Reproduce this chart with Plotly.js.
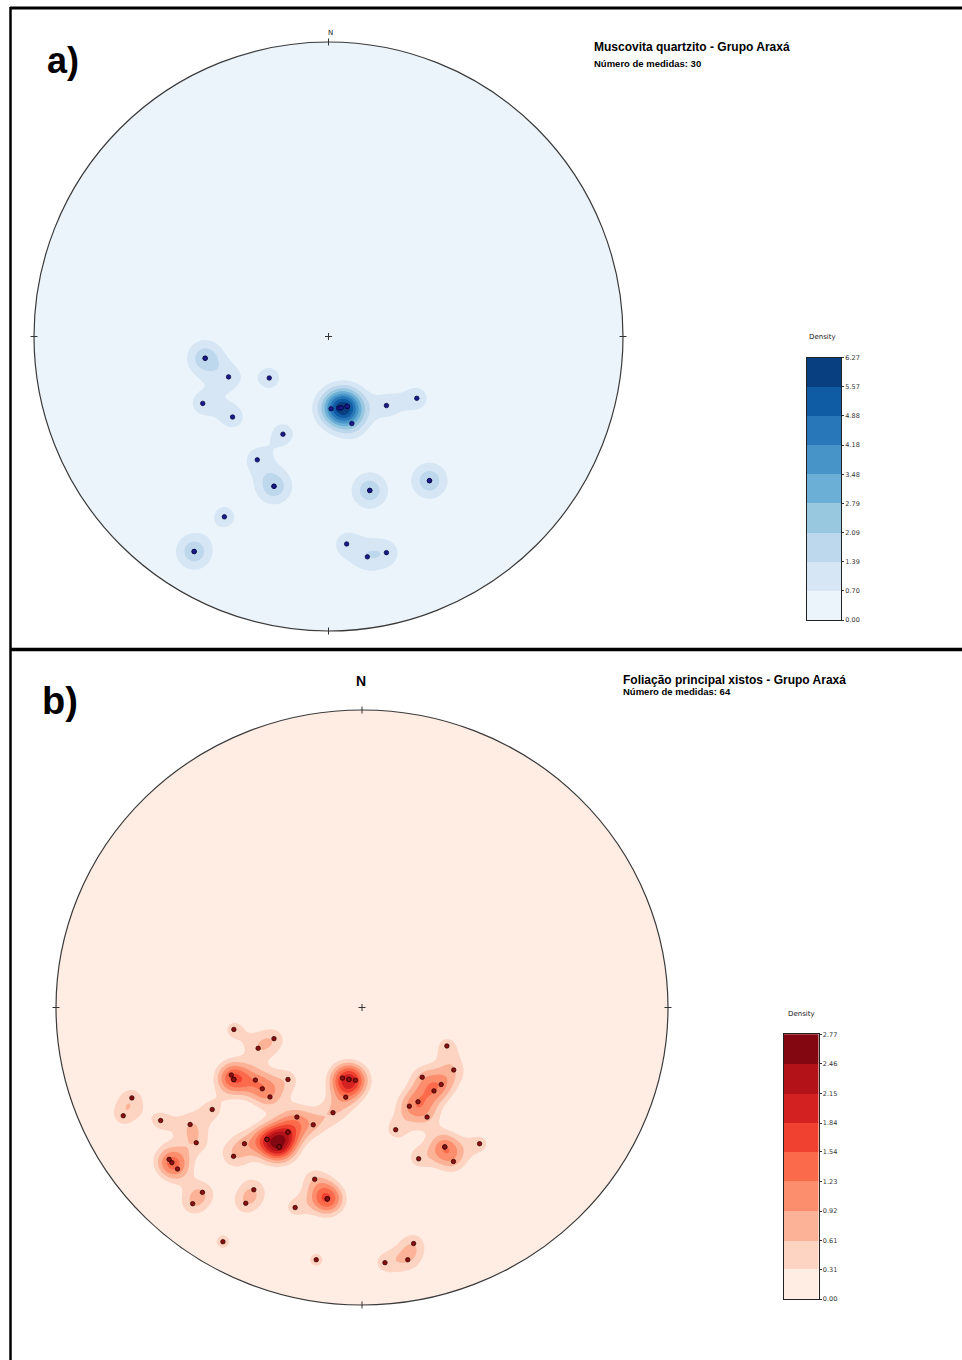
<!DOCTYPE html>
<html>
<head>
<meta charset="utf-8">
<script src="https://cdn.plot.ly/plotly-3.0.1.min.js"></script>
<style>
  html, body { margin: 0; padding: 0; background: #ffffff; }
  #chart { width: 962px; height: 1360px; }
</style>
</head>
<body>
<div id="chart"></div>
<script>
// Poles to planes, lower-hemisphere equal-area net: trend / plunge in degrees.
// a) Muscovita quartzito - Grupo Araxá (30 measurements)
const trendA  = [260, 248, 235, 242, 230, 178, 172, 170, 165, 165, 140, 125, 205, 210, 200,
                 165, 145, 210, 212, 175, 170, 165, 165, 165, 170, 165, 145, 212, 200, 260];
const plungeA = [ 55,  60,  70,  50,  55,  70,  70,  70,  70,  65,  65,  60,  60,  50,  45,
                  45,  40,  30,  15,  30,  25,  25,  70,  70,  70,  45,  40,  15,  45,  55];

// b) Foliação principal xistos - Grupo Araxá (64 measurements)
const trendB  = [260, 250, 248, 242, 240, 235, 225, 230, 225, 248, 235, 245, 240, 235, 210, 202,
                 210, 215, 220, 210, 230, 220, 231, 228, 195, 190, 220, 220, 210, 210, 198, 210,
                 190, 115, 125, 195, 190, 185, 140, 135, 140, 190, 150, 155, 150, 195, 165, 150,
                 140, 160, 150, 168, 175, 170, 210, 210, 215, 210, 190, 190, 230, 240, 190, 150];
const plungeB = [ 55,  65,  60,  50,  50,  55,  62,  55,  55,  20,  40,  15,  25,  32,  55,  55,
                  50,  45,  40,  45,  30,  35,  20,  20,  40,  35,  20,  15,  30,  25,  30,  10,
                  15,  65,  60,  70,  70,  70,  65,  60,  60,  65,  60,  60,  55,  60,  55,  45,
                  40,  45,  40,  20,  15,  15,  45,  45,  45,  50,  35,  35,  20,  50,  70,  45];

// Density contour levels (colour bar tick labels)
const levelLabelsA = ['0.00', '0.70', '1.39', '2.09', '2.79', '3.48', '4.18', '4.88', '5.57', '6.27'];
const levelLabelsB = ['0.00', '0.31', '0.61', '0.92', '1.23', '1.54', '1.84', '2.15', '2.46', '2.77'];

// Band colours (Blues / Reds, lowest band first)
const bandsBlues = ['#ecf4fb', '#d6e6f4', '#bdd7ec', '#98c7e0', '#6baed6', '#4795c8', '#2878b9', '#105ca4', '#083f81'];
const bandsReds  = ['#ffece3', '#fdd4c2', '#fcb297', '#fc8e6e', '#fb6a4a', '#f0402f', '#d32020', '#b21218', '#830711'];

const titleA = 'Muscovita quartzito - Grupo Araxá';
const titleB = 'Foliação principal xistos - Grupo Araxá';
const countText = 'Número de medidas: ';

// ---------------------------------------------------------------------------
const W = 962, H = 1360, PAD = 1.05;
const NET_A = { cx: 328.5, cy: 336.5, rx: 294.5, ry: 294.5 };
const NET_B = { cx: 362.0, cy: 1007.5, rx: 306.0, ry: 297.5 };

// Lambert equal-area projection of a line (trend/plunge) onto the unit net
function project(trend, plunge) {
  const t = trend * Math.PI / 180;
  const p = plunge * Math.PI / 180;
  const r = Math.SQRT2 * Math.sin((Math.PI / 2 - p) / 2);
  return [r * Math.sin(t), r * Math.cos(t)];
}

function projectAll(trends, plunges) {
  const xs = [], ys = [];
  trends.forEach((t, i) => { const q = project(t, plunges[i]); xs.push(q[0]); ys.push(q[1]); });
  return { xs, ys };
}

// Gaussian point counts on a regular grid, less a small background offset,
// scaled so that the densest node sits on the top contour level
function densityGrid(xs, ys, sigma, offset, n, top) {
  const axis = [];
  for (let i = 0; i < n; i++) axis.push(-1 + 2 * i / (n - 1));
  const k = 1 / (2 * sigma * sigma);
  let max = 0;
  const z = axis.map(y => axis.map(x => {
    let s = 0;
    for (let j = 0; j < xs.length; j++) {
      const dx = x - xs[j], dy = y - ys[j];
      s += Math.exp(-(dx * dx + dy * dy) * k);
    }
    s = Math.max(0, s - offset);
    if (s > max) max = s;
    return s;
  }));
  const f = top / max;
  return { axis, z: z.map(row => row.map(v => v * f)) };
}

// Piecewise-constant colour scale for filled contour bands
function steppedScale(colors) {
  const n = colors.length, out = [];
  colors.forEach((c, i) => {
    const a = i === 0 ? 0 : (i + 0.5) / (n + 1);
    const b = i === n - 1 ? 1 : (i + 1.5) / (n + 1);
    out.push([a, c], [b, c]);
  });
  return out;
}

function domains(net) {
  return {
    x: [(net.cx - net.rx * PAD) / W, (net.cx + net.rx * PAD) / W],
    y: [1 - (net.cy + net.ry * PAD) / H, 1 - (net.cy - net.ry * PAD) / H]
  };
}

// White frame with a circular hole, hiding the density field outside the primitive
function maskPath() {
  let d = `M${-PAD},${-PAD}L${PAD},${-PAD}L${PAD},${PAD}L${-PAD},${PAD}Z`;
  const n = 720;
  for (let i = 0; i <= n; i++) {
    const t = 2 * Math.PI * i / n;
    d += (i ? 'L' : 'M') + Math.cos(t).toFixed(5) + ',' + Math.sin(t).toFixed(5);
  }
  return d + 'Z';
}

function netShapes(xr, yr, net) {
  const tx = 3.5 / net.rx, ty = 3.5 / net.ry;
  const ln = { color: '#333333', width: 1 };
  return [
    { type: 'path', xref: xr, yref: yr, path: maskPath(), fillcolor: '#ffffff', fillrule: 'evenodd',
      line: { width: 0 }, layer: 'above' },
    { type: 'circle', xref: xr, yref: yr, x0: -1, x1: 1, y0: -1, y1: 1,
      line: { color: '#3a3a3a', width: 1.2 }, layer: 'above' },
    { type: 'line', xref: xr, yref: yr, x0: 0, x1: 0, y0: 1 - ty, y1: 1 + ty, line: ln, layer: 'above' },
    { type: 'line', xref: xr, yref: yr, x0: 0, x1: 0, y0: -1 - ty, y1: -1 + ty, line: ln, layer: 'above' },
    { type: 'line', xref: xr, yref: yr, x0: 1 - tx, x1: 1 + tx, y0: 0, y1: 0, line: ln, layer: 'above' },
    { type: 'line', xref: xr, yref: yr, x0: -1 - tx, x1: -1 + tx, y0: 0, y1: 0, line: ln, layer: 'above' },
    { type: 'line', xref: xr, yref: yr, x0: 0, x1: 0, y0: -ty, y1: ty, line: ln, layer: 'above' },
    { type: 'line', xref: xr, yref: yr, x0: -tx, x1: tx, y0: 0, y1: 0, line: ln, layer: 'above' }
  ];
}

function contourTrace(xr, yr, grid, labels, bands) {
  const top = parseFloat(labels[labels.length - 1]);
  const step = top / (labels.length - 1);
  return {
    type: 'contour', xaxis: xr, yaxis: yr,
    x: grid.axis, y: grid.axis, z: grid.z,
    autocontour: false,
    contours: { start: 0, end: top, size: step, coloring: 'fill', showlines: false },
    line: { width: 0, smoothing: 1 },
    colorscale: steppedScale(bands),
    showscale: false,
    hoverinfo: 'skip'
  };
}

// Colour key: one stacked block per density band
function keyTrace(xr, yr, labels, bands) {
  const lv = labels.map(parseFloat);
  return {
    type: 'bar', xaxis: xr, yaxis: yr,
    x: bands.map(() => 0),
    base: lv.slice(0, -1),
    y: lv.slice(1).map((v, i) => v - lv[i]),
    width: 1,
    marker: { color: bands, line: { width: 0 } },
    hoverinfo: 'skip'
  };
}

function keyAxes(labels, xDom, yDom, anchorX, anchorY) {
  const lv = labels.map(parseFloat);
  return {
    x: { domain: xDom, anchor: anchorY, range: [-0.5, 0.5], showline: true, mirror: true,
         linecolor: '#222222', linewidth: 1, showticklabels: false, ticks: '', showgrid: false,
         zeroline: false, fixedrange: true },
    y: { domain: yDom, anchor: anchorX, range: [lv[0], lv[lv.length - 1]], side: 'right',
         showline: true, mirror: true, linecolor: '#222222', linewidth: 1, showgrid: false,
         zeroline: false, fixedrange: true, tickmode: 'array', tickvals: lv, ticktext: labels,
         ticks: 'outside', ticklen: 2, tickwidth: 1, tickcolor: '#333333',
         tickfont: { family: 'DejaVu Sans', size: 6.5, color: '#333333' } }
  };
}

function poleTrace(xr, yr, pts, color, edge) {
  return {
    type: 'scatter', mode: 'markers', xaxis: xr, yaxis: yr,
    x: pts.xs, y: pts.ys, hoverinfo: 'skip',
    marker: { size: 4.5, color: color, line: { width: 0.7, color: edge } }
  };
}

const polesA = projectAll(trendA, plungeA);
const polesB = projectAll(trendB, plungeB);
const gridA = densityGrid(polesA.xs, polesA.ys, 0.044, 0.0, 201, parseFloat(levelLabelsA[levelLabelsA.length - 1]));
const gridB = densityGrid(polesB.xs, polesB.ys, 0.040, 0.35, 241, parseFloat(levelLabelsB[levelLabelsB.length - 1]));

function px(x) { return x / W; }
function py(y) { return 1 - y / H; }

const data = [
  contourTrace('x', 'y', gridA, levelLabelsA, bandsBlues),
  poleTrace('x', 'y', polesA, '#1a1a8c', '#05053a'),
  contourTrace('x2', 'y2', gridB, levelLabelsB, bandsReds),
  poleTrace('x2', 'y2', polesB, '#8a0f0f', '#2a0000'),
  keyTrace('x3', 'y3', levelLabelsA, bandsBlues),
  keyTrace('x4', 'y4', levelLabelsB, bandsReds)
];

const dA = domains(NET_A), dB = domains(NET_B);
const axisBase = { range: [-PAD, PAD], visible: false, showgrid: false, zeroline: false, fixedrange: true };
const keyA = keyAxes(levelLabelsA, [px(807), px(841)], [py(620), py(357.7)], 'x3', 'y3');
const keyB = keyAxes(levelLabelsB, [px(783.5), px(818.5)], [py(1299), py(1034.3)], 'x4', 'y4');

const frame = [
  { type: 'line', xref: 'paper', yref: 'paper', x0: px(10), x1: px(962), y0: py(8), y1: py(8),
    line: { color: '#000000', width: 3 } },
  { type: 'line', xref: 'paper', yref: 'paper', x0: px(10.5), x1: px(10.5), y0: py(7), y1: py(1360),
    line: { color: '#000000', width: 2.5 } },
  { type: 'line', xref: 'paper', yref: 'paper', x0: px(10), x1: px(962), y0: py(649.5), y1: py(649.5),
    line: { color: '#000000', width: 3.5 } }
];

const arial = 'Liberation Sans, Arial, sans-serif';
function note(text, x, y, size, family, anchor, color) {
  return { text: text, x: px(x), y: py(y), xref: 'paper', yref: 'paper', showarrow: false,
    xanchor: anchor || 'left', yanchor: 'middle',
    font: { family: family || arial, size: size, color: color || '#000000' } };
}

const annotations = [
  note('<b>a)</b>', 45, 61, 36),
  note('<b>' + titleA + '</b>', 592, 47.5, 12),
  note('<b>' + countText + trendA.length + '</b>', 592, 63, 9.5),
  note('N', 330, 33, 7, 'DejaVu Sans', 'center', '#222222'),
  note('Density', 822.7, 337, 7, 'DejaVu Sans', 'center', '#222222'),

  note('<b>b)</b>', 40, 701, 38),
  note('<b>' + titleB + '</b>', 621, 679.5, 12),
  note('<b>' + countText + trendB.length + '</b>', 621, 691.5, 9.5),
  note('<b>N</b>', 361, 681, 14, arial, 'center'),
  note('Density', 801.7, 1014, 7, 'DejaVu Sans', 'center', '#222222')
];

const layout = {
  width: W, height: H,
  margin: { l: 0, r: 0, t: 0, b: 0 },
  paper_bgcolor: '#ffffff', plot_bgcolor: 'rgba(0,0,0,0)',
  showlegend: false, barmode: 'overlay', bargap: 0,
  xaxis:  Object.assign({ domain: dA.x, anchor: 'y' }, axisBase),
  yaxis:  Object.assign({ domain: dA.y, anchor: 'x' }, axisBase),
  xaxis2: Object.assign({ domain: dB.x, anchor: 'y2' }, axisBase),
  yaxis2: Object.assign({ domain: dB.y, anchor: 'x2' }, axisBase),
  xaxis3: keyA.x, yaxis3: keyA.y,
  xaxis4: keyB.x, yaxis4: keyB.y,
  shapes: frame.concat(netShapes('x', 'y', NET_A), netShapes('x2', 'y2', NET_B)),
  annotations: annotations
};

Plotly.newPlot('chart', data, layout, { staticPlot: true, displayModeBar: false });
</script>
</body>
</html>
